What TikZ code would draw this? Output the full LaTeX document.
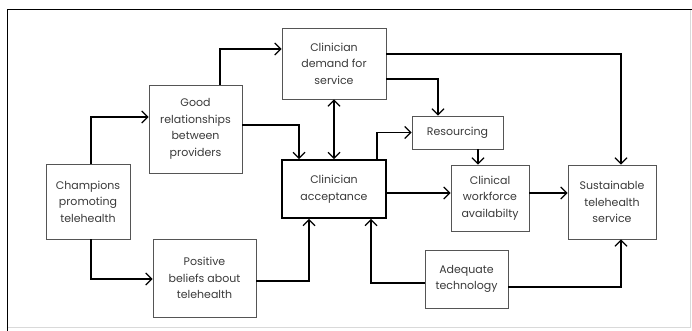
\documentclass[tikz,border=0pt]{standalone}
\usepackage{fontspec}
\setmainfont{Poppins}
\usepackage{tikz}
\usetikzlibrary{arrows.meta}

\definecolor{boxgray}{HTML}{555555}
\definecolor{txtgray}{HTML}{3A3A3A}

\tikzset{
  caja/.style={draw=boxgray,line width=0.9pt,align=center,inner sep=0pt,
    font=\fontsize{11}{16.5}\selectfont,text=txtgray},
  punta/.tip={Straight Barb[length=6pt,width=12pt,line width=1.2pt]},
  flecha/.style={line width=1.4pt,-punta},
  doble/.style={line width=1.4pt,punta-punta},
}

\begin{document}
\begin{tikzpicture}[x=1pt,y=-1pt]
  \useasboundingbox (0,0) rectangle (692,331);
  % Marco
  \draw[black!15,line width=0.8pt] (690,10) -- (690,327) -- (7,327);
  \draw[line width=1pt] (7,331) -- (7,10) -- (692,10);

  % Cajas
  \node[caja,minimum width=84,minimum height=75] (champ) at (88,201.5)
    {Champions\\promoting\\telehealth};
  \node[caja,minimum width=93,minimum height=88] (good) at (195.5,129)
    {Good\\relationships\\between\\providers};
  \node[caja,minimum width=103,minimum height=78] (positive) at (204.5,278)
    {Positive\\beliefs about\\telehealth};
  \node[caja,minimum width=104,minimum height=71] (demand) at (334,63.5)
    {Clinician\\demand for\\service};
  \node[caja,draw=black,line width=1.8pt,minimum width=104,minimum height=58] (accept) at (334,189)
    {Clinician\\acceptance};
  \node[caja,minimum width=91,minimum height=33] (resourcing) at (457.5,132.5)
    {Resourcing};
  \node[caja,minimum width=78,minimum height=66] (workforce) at (490,198)
    {Clinical\\workforce\\availabilty};
  \node[caja,minimum width=83,minimum height=58] (adequate) at (466.5,279)
    {Adequate\\technology};
  \node[caja,minimum width=88,minimum height=74] (sustain) at (612,202)
    {Sustainable\\telehealth\\service};

  % Conexiones
  \draw[flecha] ([xshift=3]champ.north) |- ([yshift=12]good.west);
  \draw[flecha] ([xshift=3]champ.south) |- ([yshift=-1]positive.west);
  \draw[flecha] ([xshift=24.5]good.north) |- ([yshift=14.5]demand.west);
  \draw[flecha] ([yshift=4]good.east) -| ([xshift=-35]accept.north);
  \draw[doble] (demand.south) -- (accept.north);
  \draw[flecha] ([yshift=-3]positive.east) -| ([xshift=-25]accept.south);
  \draw[flecha] ([yshift=9.5]demand.east) -| ([xshift=9]sustain.north);
  \draw[flecha] ([yshift=-15.5]demand.east) -| ([xshift=-19.5]resourcing.north);
  \draw[flecha] ([xshift=43]accept.north) |- (resourcing.west);
  \draw[flecha] ([xshift=20.5]resourcing.south) -- ([xshift=-12]workforce.north);
  \draw[flecha] ([yshift=-4]accept.east) -- ([yshift=-4]accept.east -| workforce.west);
  \draw[flecha] ([yshift=5]workforce.east) -- ([yshift=5]workforce.east -| sustain.west);
  \draw[flecha] ([yshift=-4]adequate.west) -| ([xshift=37]accept.south);
  \draw[flecha] ([yshift=-8]adequate.east) -| ([xshift=9]sustain.south);
\end{tikzpicture}
\end{document}
